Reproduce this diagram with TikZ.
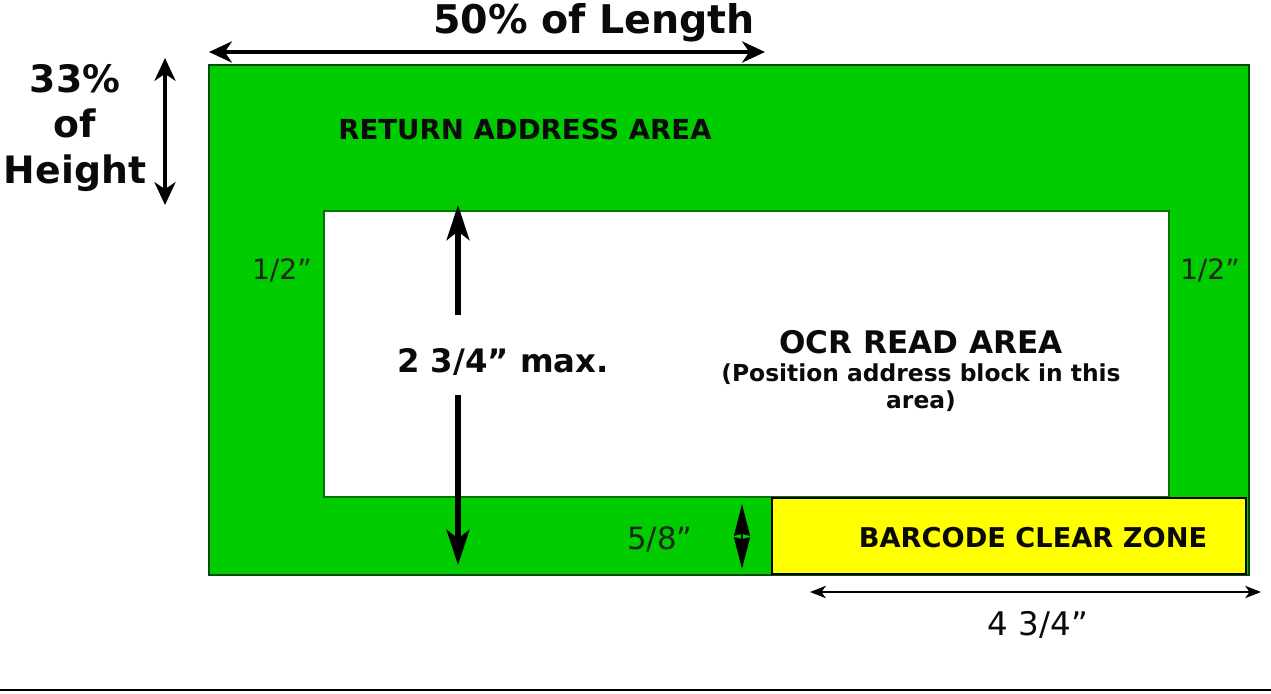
\documentclass[tikz,border=0pt]{standalone}
\usepackage{fontspec}
\setmainfont{DejaVu Sans}
\usetikzlibrary{calc}
\usetikzlibrary{positioning}
\usetikzlibrary{arrows.meta}

\definecolor{zoneGreen}{RGB}{0,204,0}
\definecolor{zoneYellow}{RGB}{255,255,0}
\definecolor{inkDark}{RGB}{10,10,10}
\definecolor{inkSoft}{RGB}{25,40,25}

\begin{document}
\begin{tikzpicture}[x=0.02cm, y=-0.02cm,
  boldlabel/.style={font=\bfseries, text=inkDark, inner sep=0pt, align=center},
  thinlabel/.style={text=inkSoft, inner sep=0pt},
  dimarrow/.style={draw=black, {Stealth[length=13pt, width=12pt, inset=4pt]}-{Stealth[length=13pt, width=12pt, inset=4pt]}}]

\useasboundingbox (0,0) rectangle (1271,693);

% die drei Flaechen
\coordinate (G1) at (209,65);
\coordinate (G2) at (1249,575);
\coordinate (W1) at (324,211);
\coordinate (W2) at (1169,497);
\coordinate (Y1) at (772,498);
\coordinate (Y2) at (1246,574);

\filldraw[fill=zoneGreen, draw=black!70!green, line width=0.8pt] (G1) rectangle (G2);
\filldraw[fill=white, draw=black!55!green, line width=0.6pt] (W1) rectangle (W2);
\filldraw[fill=zoneYellow, draw=black, line width=1pt] (Y1) rectangle (Y2);

% Beschriftungen
\node[boldlabel, font=\bfseries\fontsize{22.5}{26}\selectfont] (length) at (594,23) {50\% of Length};
\node[boldlabel, font=\bfseries\fontsize{21.5}{26}\selectfont] (height) at (75,128) {33\%\\of\\Height};
\node[boldlabel, font=\bfseries\fontsize{15.7}{18}\selectfont] (ret) at (525,129) {RETURN ADDRESS AREA};
\node[boldlabel, font=\bfseries\fontsize{17.7}{21}\selectfont] (ocr) at (921,342) {OCR READ AREA};
\node[boldlabel, font=\bfseries\fontsize{13.3}{15.5}\selectfont, below=5pt of ocr] (pos) {(Position address block in this\\area)};
\node[boldlabel, font=\bfseries\fontsize{18.4}{22}\selectfont] (max) at (503,362) {2 3/4” max.};
\node[boldlabel, font=\bfseries\fontsize{15.5}{18}\selectfont] (bar) at (1033,538) {BARCODE CLEAR ZONE};
\node[thinlabel, font=\fontsize{16}{18}\selectfont] (halfL) at (282,270) {1/2”};
\node[thinlabel, font=\fontsize{16}{18}\selectfont] (halfR) at (1210,270) {1/2”};
\node[thinlabel, font=\fontsize{17.5}{20}\selectfont] (five) at (660,540) {5/8”};
\node[thinlabel, text=inkDark, font=\fontsize{18.5}{22}\selectfont] (four) at (1038,625) {4 3/4”};

% Masspfeile
\coordinate (L1) at (209,52);
\coordinate (L2) at (765,52);
\coordinate (H1) at (165,58);
\coordinate (H2) at (165,205);
\coordinate (M1) at (458,315);
\coordinate (M2) at (458,205);
\coordinate (M3) at (458,395);
\coordinate (M4) at (458,565);
\coordinate (F1) at (742,504);
\coordinate (F2) at (742,569);
\coordinate (B1) at (810,592);
\coordinate (B2) at (1261,592);

\draw[dimarrow, line width=2.4pt] (L1) -- (L2);
\draw[dimarrow, line width=2pt] (H1) -- (H2);
\draw[line width=3pt, -{Stealth[length=20pt, width=13pt, inset=5pt]}] (M1) -- (M2);
\draw[line width=3pt, -{Stealth[length=20pt, width=13pt, inset=5pt]}] (M3) -- (M4);
\draw[line width=1.5pt, {Stealth[length=18pt, width=9pt, inset=1pt]}-{Stealth[length=18pt, width=9pt, inset=1pt]}] (F1) -- (F2);
\draw[line width=1.1pt, {Stealth[length=9pt, width=7pt, inset=2.5pt]}-{Stealth[length=9pt, width=7pt, inset=2.5pt]}] (B1) -- (B2);

% Linie unten
\coordinate (E1) at (0,690);
\coordinate (E2) at (1271,690);
\draw[black, line width=1.5pt] (E1) -- (E2);

\end{tikzpicture}
\end{document}
